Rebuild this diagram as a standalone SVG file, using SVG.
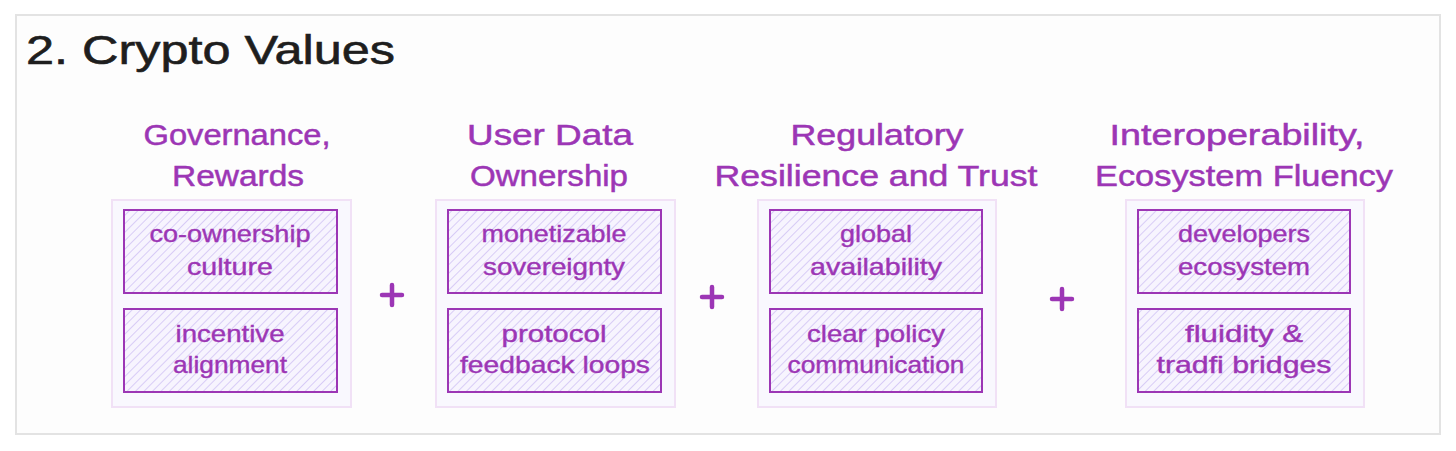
<svg xmlns="http://www.w3.org/2000/svg" width="1456" height="451" viewBox="0 0 1456 451">
<style>
.frame{fill:#fdfdfd;stroke:#e3e3e3;stroke-width:2}
.cont{fill:#f9f8fe;stroke:#f1e1f6;stroke-width:2}
.box{fill:url(#hatch);stroke:#9c36b5;stroke-width:2}
.title{font-family:"Liberation Sans",Arial,sans-serif;font-size:40px;fill:#1e1e1e;stroke:#1e1e1e;stroke-width:0.6}
.head{font-family:"Liberation Sans",Arial,sans-serif;font-size:30px;fill:#9c36b5;stroke:#9c36b5;stroke-width:0.5;text-anchor:middle}
.txt{font-family:"Liberation Sans",Arial,sans-serif;font-size:24px;fill:#9c36b5;stroke:#9c36b5;stroke-width:0.4;text-anchor:middle}
.plus{stroke:#9c36b5;stroke-width:4.5;stroke-linecap:round;fill:none}
</style>
<defs>
<pattern id="hatch" patternUnits="userSpaceOnUse" width="6" height="6" patternTransform="rotate(45)">
<rect width="6" height="6" fill="#f7f4fe"/>
<line x1="0" y1="0" x2="0" y2="6" stroke="#c8b6f2" stroke-width="1.3"/>
</pattern>
</defs>
<rect width="1456" height="451" fill="#ffffff"/>
<rect class="frame" x="16" y="15" width="1424" height="419"/>
<text class="title" x="26" y="64" textLength="369" lengthAdjust="spacingAndGlyphs">2. Crypto Values</text>

<g id="group-governance">
<text class="head" x="237" y="145" textLength="187" lengthAdjust="spacingAndGlyphs">Governance,</text>
<text class="head" x="238" y="186" textLength="132" lengthAdjust="spacingAndGlyphs">Rewards</text>
<rect class="cont" x="112" y="200" width="239" height="207"/>
<g id="node-co-ownership">
<rect class="box" x="124" y="210" width="213" height="83"/>
<text class="txt" x="230" y="242" textLength="161" lengthAdjust="spacingAndGlyphs">co-ownership</text>
<text class="txt" x="230" y="275" textLength="86" lengthAdjust="spacingAndGlyphs">culture</text>
</g>
<g id="node-incentive">
<rect class="box" x="124" y="309" width="213" height="83"/>
<text class="txt" x="230" y="342" textLength="109" lengthAdjust="spacingAndGlyphs">incentive</text>
<text class="txt" x="230" y="373" textLength="114" lengthAdjust="spacingAndGlyphs">alignment</text>
</g>
</g>

<g id="group-userdata">
<text class="head" x="550" y="145" textLength="166" lengthAdjust="spacingAndGlyphs">User Data</text>
<text class="head" x="549" y="186" textLength="158" lengthAdjust="spacingAndGlyphs">Ownership</text>
<rect class="cont" x="436" y="200" width="239" height="207"/>
<g id="node-monetizable">
<rect class="box" x="448" y="210" width="213" height="83"/>
<text class="txt" x="554" y="242" textLength="145" lengthAdjust="spacingAndGlyphs">monetizable</text>
<text class="txt" x="554" y="275" textLength="142" lengthAdjust="spacingAndGlyphs">sovereignty</text>
</g>
<g id="node-protocol">
<rect class="box" x="448" y="309" width="213" height="83"/>
<text class="txt" x="554" y="342" textLength="105" lengthAdjust="spacingAndGlyphs">protocol</text>
<text class="txt" x="555" y="373" textLength="190" lengthAdjust="spacingAndGlyphs">feedback loops</text>
</g>
</g>

<g id="group-regulatory">
<text class="head" x="877" y="145" textLength="173" lengthAdjust="spacingAndGlyphs">Regulatory</text>
<text class="head" x="876" y="186" textLength="323" lengthAdjust="spacingAndGlyphs">Resilience and Trust</text>
<rect class="cont" x="758" y="200" width="238" height="207"/>
<g id="node-global">
<rect class="box" x="770" y="210" width="212" height="83"/>
<text class="txt" x="876" y="242" textLength="72" lengthAdjust="spacingAndGlyphs">global</text>
<text class="txt" x="876" y="275" textLength="132" lengthAdjust="spacingAndGlyphs">availability</text>
</g>
<g id="node-policy">
<rect class="box" x="770" y="309" width="212" height="83"/>
<text class="txt" x="876" y="342" textLength="138" lengthAdjust="spacingAndGlyphs">clear policy</text>
<text class="txt" x="876" y="373" textLength="177" lengthAdjust="spacingAndGlyphs">communication</text>
</g>
</g>

<g id="group-interop">
<text class="head" x="1237" y="145" textLength="255" lengthAdjust="spacingAndGlyphs">Interoperability,</text>
<text class="head" x="1244" y="186" textLength="298" lengthAdjust="spacingAndGlyphs">Ecosystem Fluency</text>
<rect class="cont" x="1126" y="200" width="238" height="207"/>
<g id="node-developers">
<rect class="box" x="1138" y="210" width="212" height="83"/>
<text class="txt" x="1244" y="242" textLength="132" lengthAdjust="spacingAndGlyphs">developers</text>
<text class="txt" x="1244" y="275" textLength="132" lengthAdjust="spacingAndGlyphs">ecosystem</text>
</g>
<g id="node-fluidity">
<rect class="box" x="1138" y="309" width="212" height="83"/>
<text class="txt" x="1244" y="342" textLength="118" lengthAdjust="spacingAndGlyphs">fluidity &amp;</text>
<text class="txt" x="1244" y="373" textLength="175" lengthAdjust="spacingAndGlyphs">tradfi bridges</text>
</g>
</g>

<g id="connectors">
<path class="plus" d="M382 295 H402 M392 285 V305"/>
<path class="plus" d="M702 297 H722 M712 287 V307"/>
<path class="plus" d="M1052 299 H1072 M1062 289 V309"/>
</g>
</svg>
